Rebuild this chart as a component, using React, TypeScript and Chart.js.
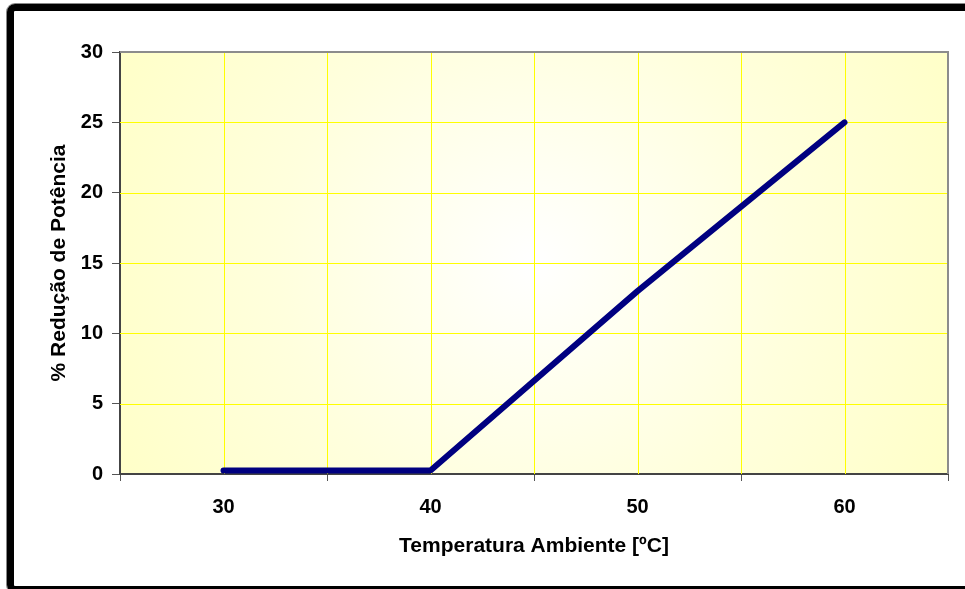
import React, { useEffect, useRef } from "react";
import { Chart, registerables } from "chart.js";

Chart.register(...registerables);

const temperatures = [30, 40, 50, 60];
const reduction = [0.25, 0.25, 13, 25];
const xLabelTicks = [30, 40, 50, 60];
const xGridValues = [30, 35, 40, 45, 50, 55, 60];
const yGridValues = [5, 10, 15, 20, 25];
const xTitle = "Temperatura Ambiente [ºC]";
const yTitle = "% Redução de Potência";

const FONT = "Arial, 'Liberation Sans', sans-serif";

const plotDecor = {
  id: "plotDecor",
  beforeDraw(chart: any) {
    const { ctx, chartArea: a } = chart;
    const cx = (a.left + a.right) / 2;
    const cy = (a.top + a.bottom) / 2;
    const r = Math.hypot(a.right - a.left, a.bottom - a.top) / 2;
    const g = ctx.createRadialGradient(cx, cy, 0, cx, cy, r);
    g.addColorStop(0, "#FFFFFF");
    g.addColorStop(0.55, "#FFFFDD");
    g.addColorStop(1, "#FFFFC8");
    ctx.save();
    ctx.fillStyle = g;
    ctx.fillRect(a.left, a.top, a.right - a.left, a.bottom - a.top);
    ctx.restore();
  },
  beforeDatasetsDraw(chart: any) {
    const { ctx, chartArea: a, scales } = chart;
    ctx.save();
    ctx.strokeStyle = "#FFFF00";
    ctx.lineWidth = 1;
    ctx.beginPath();
    xGridValues.forEach((v) => {
      const px = Math.round(scales.x.getPixelForValue(v)) + 0.5;
      ctx.moveTo(px, a.top);
      ctx.lineTo(px, a.bottom);
    });
    yGridValues.forEach((v) => {
      const py = Math.round(scales.y.getPixelForValue(v)) + 0.5;
      ctx.moveTo(a.left, py);
      ctx.lineTo(a.right, py);
    });
    ctx.stroke();
    ctx.restore();
  },
  afterDraw(chart: any) {
    const { ctx, chartArea: a } = chart;
    ctx.save();
    ctx.strokeStyle = "#8C8C8C";
    ctx.lineWidth = 2;
    ctx.beginPath();
    ctx.moveTo(a.left, a.top);
    ctx.lineTo(a.right, a.top);
    ctx.lineTo(a.right, a.bottom);
    ctx.stroke();
    ctx.restore();
  },
};

export default function App() {
  const ref = useRef<HTMLCanvasElement>(null);
  useEffect(() => {
    if (!ref.current) return;
    const chart = new Chart(ref.current, {
      type: "line",
      data: {
        datasets: [
          {
            data: temperatures.map((t, i) => ({ x: t, y: reduction[i] })),
            borderColor: "#000080",
            backgroundColor: "#000080",
            borderWidth: 6,
            borderCapStyle: "round",
            borderJoinStyle: "round",
            pointRadius: 0,
            tension: 0,
          },
        ],
      },
      options: {
        animation: false,
        responsive: false,
        events: [],
        layout: { padding: { left: 0, top: 52, right: 17, bottom: 0 } },
        plugins: { legend: { display: false }, tooltip: { enabled: false } },
        scales: {
          x: {
            type: "linear",
            min: 25,
            max: 65,
            afterFit: (s: any) => {
              s.height = 115;
            },
            ticks: {
              stepSize: 5,
              autoSkip: false,
              maxRotation: 0,
              padding: 14,
              color: "#000",
              font: { family: FONT, size: 20, weight: "bold" },
              callback: (v: any) => (xLabelTicks.includes(Number(v)) ? String(v) : ""),
            },
            grid: {
              drawOnChartArea: false,
              tickColor: (c: any) => {
                const v = c.tick && c.tick.value;
                return (v - 25) % 10 === 0 ? "#555555" : "rgba(0,0,0,0)";
              },
              tickLength: 7,
              lineWidth: 1,
            },
            border: { color: "#444444", width: 2 },
            title: {
              display: true,
              text: xTitle,
              color: "#000",
              font: { family: FONT, size: 21, weight: "bold" },
              padding: { top: 0, bottom: 30 },
            },
          },
          y: {
            min: 0,
            max: 30,
            afterFit: (s: any) => {
              s.width = 120;
            },
            ticks: {
              stepSize: 5,
              padding: 9,
              color: "#000",
              font: { family: FONT, size: 20, weight: "bold" },
            },
            grid: {
              drawOnChartArea: false,
              tickColor: "#555555",
              tickLength: 8,
              lineWidth: 1,
            },
            border: { color: "#444444", width: 2 },
            title: {
              display: true,
              text: yTitle,
              color: "#000",
              font: { family: FONT, size: 21, weight: "bold" },
              padding: { top: 47, bottom: 0 },
            },
          },
        },
      },
      plugins: [plotDecor],
    } as any);
    return () => chart.destroy();
  }, []);

  return (
    <div
      style={{
        position: "fixed",
        left: 0,
        top: 0,
        width: 965,
        height: 589,
        overflow: "hidden",
        background: "#fff",
      }}
    >
      <canvas
        ref={ref}
        width={965}
        height={589}
        style={{ position: "absolute", left: 0, top: 0, width: 965, height: 589 }}
      />
      <div
        style={{
          position: "absolute",
          left: 7,
          top: 4,
          width: 1000,
          height: 589,
          boxSizing: "border-box",
          border: "7px solid #000",
          borderRadius: 8,
          boxShadow: "0 0 0 1px #888",
          pointerEvents: "none",
        }}
      />
    </div>
  );
}
